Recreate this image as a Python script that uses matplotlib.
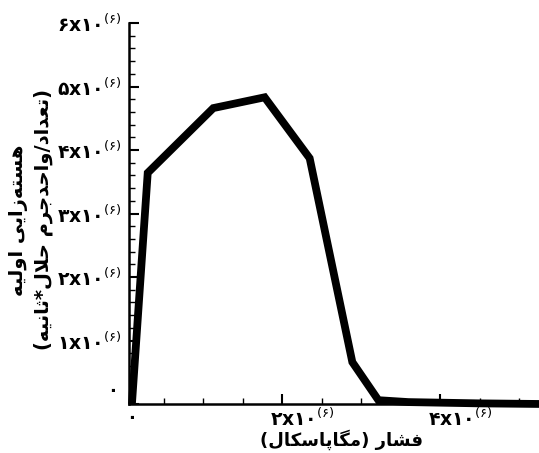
import numpy as np
import matplotlib
matplotlib.use("Agg")
import matplotlib.pyplot as plt
from matplotlib.ticker import FixedLocator, MultipleLocator
import matplotlib.transforms as mtransforms

plt.rcParams['font.family'] = ['DejaVu Sans']
plt.rcParams['mathtext.fontset'] = 'dejavusans'

# pressure (Pa) vs. primary nucleation rate
pressure = np.array([0.1, 0.3, 1.13, 1.78, 2.35, 2.89, 3.22, 3.6, 4.5, 5.3]) * 1e6
nucleation = np.array([0.0, 3.64, 4.66, 4.83, 3.87, 0.66, 0.06, 0.03, 0.01, 0.0]) * 1e6

yticks = [0, 1e6, 2e6, 3e6, 4e6, 5e6, 6e6]
yticklabels = [''] + [r'$\mathbf{%sx۱۰}^{(۶)}$' % d for d in '۱۲۳۴۵۶']
xticks = [2e6, 4e6]
xticklabels = [r'$\mathbf{۲x۱۰}^{(۶)}$', r'$\mathbf{۴x۱۰}^{(۶)}$']

ylabel_1 = 'هسته\u200cزایی اولیه'
ylabel_2 = '(تعداد/واحدجرم حلال*ثانیه)'
xlabel = 'فشار (مگاپاسکال)'

# presentation forms: isolated, final, initial, medial
FORMS = {
    'ا': ('\uFE8D', '\uFE8E', None, None),
    'ب': ('\uFE8F', '\uFE90', '\uFE91', '\uFE92'),
    'پ': ('\uFB56', '\uFB57', '\uFB58', '\uFB59'),
    'ت': ('\uFE95', '\uFE96', '\uFE97', '\uFE98'),
    'ث': ('\uFE99', '\uFE9A', '\uFE9B', '\uFE9C'),
    'ج': ('\uFE9D', '\uFE9E', '\uFE9F', '\uFEA0'),
    'ح': ('\uFEA1', '\uFEA2', '\uFEA3', '\uFEA4'),
    'د': ('\uFEA9', '\uFEAA', None, None),
    'ر': ('\uFEAD', '\uFEAE', None, None),
    'ز': ('\uFEAF', '\uFEB0', None, None),
    'س': ('\uFEB1', '\uFEB2', '\uFEB3', '\uFEB4'),
    'ش': ('\uFEB5', '\uFEB6', '\uFEB7', '\uFEB8'),
    'ع': ('\uFEC9', '\uFECA', '\uFECB', '\uFECC'),
    'ف': ('\uFED1', '\uFED2', '\uFED3', '\uFED4'),
    'ک': ('\uFB8E', '\uFB8F', '\uFB90', '\uFB91'),
    'گ': ('\uFB92', '\uFB93', '\uFB94', '\uFB95'),
    'ل': ('\uFEDD', '\uFEDE', '\uFEDF', '\uFEE0'),
    'م': ('\uFEE1', '\uFEE2', '\uFEE3', '\uFEE4'),
    'ن': ('\uFEE5', '\uFEE6', '\uFEE7', '\uFEE8'),
    'ه': ('\uFEE9', '\uFEEA', '\uFEEB', '\uFEEC'),
    'و': ('\uFEED', '\uFEEE', None, None),
    'ی': ('\uFBFC', '\uFBFD', '\uFBFE', '\uFBFF'),
}
MIRROR = {'(': ')', ')': '('}


def farsi(text):
    chars = list(text)
    out = []
    i = 0
    while i < len(chars):
        c = chars[i]
        if c == '\u200c':
            i += 1
            continue
        if c not in FORMS:
            out.append(c)
            i += 1
            continue
        prev = chars[i - 1] if i > 0 else ''
        join_prev = prev in FORMS and FORMS[prev][2] is not None
        # lam-alef ligature
        if c == 'ل' and i + 1 < len(chars) and chars[i + 1] == 'ا':
            out.append('\uFEFC' if join_prev else '\uFEFB')
            i += 2
            continue
        nxt = chars[i + 1] if i + 1 < len(chars) else ''
        join_next = nxt in FORMS and FORMS[c][2] is not None
        iso, fin, ini, med = FORMS[c]
        if join_prev and join_next:
            out.append(med)
        elif join_prev:
            out.append(fin)
        elif join_next:
            out.append(ini)
        else:
            out.append(iso)
        i += 1
    return ''.join(MIRROR.get(c, c) for c in reversed(out))


W, H = 539, 453
fig = plt.figure(figsize=(W / 100, H / 100), dpi=100)

x0_px, x1_px, y0_px, y1_px = 129, 539, 404, 23
ax = fig.add_axes([x0_px / W, 1 - y0_px / H, (x1_px - x0_px) / W, (y0_px - y1_px) / H])

ax.plot(pressure, nucleation, color='black', lw=5.6, solid_joinstyle='miter',
        solid_capstyle='butt', clip_on=False)

ax.set_xlim(0.063e6, 5.253e6)
ax.set_ylim(0, 6e6)

for s in ['top', 'right']:
    ax.spines[s].set_visible(False)
for s in ['left', 'bottom']:
    ax.spines[s].set_linewidth(1.8)
    ax.spines[s].set_zorder(1)

ax.yaxis.set_major_locator(FixedLocator(yticks))
ax.set_yticklabels(yticklabels)
ax.yaxis.set_minor_locator(MultipleLocator(0.2e6))
ax.xaxis.set_major_locator(FixedLocator(xticks))
ax.set_xticklabels(xticklabels)
ax.xaxis.set_minor_locator(MultipleLocator(0.5e6))

ax.tick_params(which='major', direction='in', length=7, width=1.5, labelsize=13.5, pad=5)
ax.tick_params(which='minor', direction='in', length=4, width=1.0)
ax.tick_params(axis='x', which='major', pad=3)

# shift the x tick labels a little to the right
offset = mtransforms.ScaledTranslation(20 / 100, 0, fig.dpi_scale_trans)
for lab in ax.get_xticklabels():
    lab.set_transform(lab.get_transform() + offset)

# zero labels at the origin
fig.text(113 / W, 1 - 391 / H, '۰', ha='center', va='center', fontsize=13, fontweight='bold')
fig.text(132 / W, 1 - 418 / H, '۰', ha='center', va='center', fontsize=13, fontweight='bold')

fig.text(31 / W, 1 - 220 / H, farsi(ylabel_1) + '\n' + farsi(ylabel_2),
         rotation=90, ha='center', va='center', multialignment='center',
         fontsize=14, fontweight='bold', linespacing=1.4)
fig.text(341 / W, 1 - 440 / H, farsi(xlabel), ha='center', va='center',
         fontsize=13, fontweight='bold')

fig.savefig('out.png', dpi=100)
